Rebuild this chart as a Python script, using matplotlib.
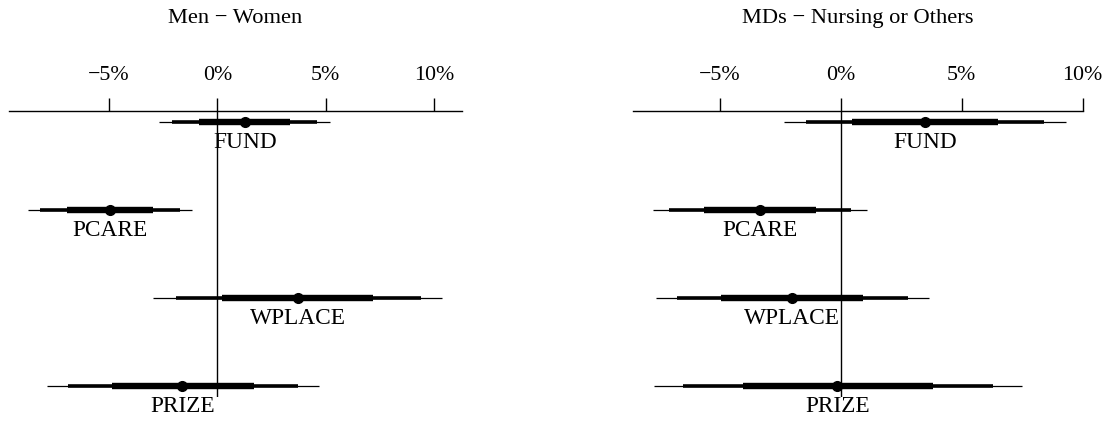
import matplotlib
matplotlib.use("Agg")
import matplotlib.pyplot as plt

plt.rcParams['font.family'] = ['Liberation Serif', 'DejaVu Serif']

categories = ["FUND", "PCARE", "WPLACE", "PRIZE"]

# Men - Women (percent)
mw_est = [1.28, -4.95, 3.71, -1.61]
mw_thin_lo = [-2.68, -8.75, -2.95, -7.87]
mw_thin_hi = [5.20, -1.15, 10.38, 4.69]
mw_mid_lo = [-2.10, -8.18, -1.92, -6.88]
mw_mid_hi = [4.62, -1.72, 9.39, 3.71]
mw_thick_lo = [-0.83, -6.95, 0.20, -4.87]
mw_thick_hi = [3.36, -2.95, 7.17, 1.69]

# MDs - Nursing or Others (percent)
md_est = [3.48, -3.33, -2.02, -0.14]
md_thin_lo = [-2.34, -7.74, -7.64, -7.71]
md_thin_hi = [9.31, 1.07, 3.65, 7.48]
md_mid_lo = [-1.43, -7.08, -6.78, -6.53]
md_mid_hi = [8.41, 0.41, 2.77, 6.31]
md_thick_lo = [0.45, -5.65, -4.96, -4.05]
md_thick_hi = [6.51, -1.02, 0.94, 3.83]

tick_vals = [-5, 0, 5, 10]
tick_labels = ["\u22125%", "0%", "5%", "10%"]

W, H = 1107, 421
fig = plt.figure(figsize=(W / 100, H / 100), dpi=100)

FS_TICK = 15.8
FS_LAB = 16.8
FS_TITLE = 16.2
ypos = [4, 3, 2, 1]


def panel(left_px, right_px, xlim, title, title_cx, est, tl, th, ml, mh, kl, kh):
    top_px, bot_px = 111, 397
    ax = fig.add_axes([left_px / W, 1 - bot_px / H,
                       (right_px - left_px) / W, (bot_px - top_px) / H])
    ax.set_xlim(*xlim)
    ax.set_ylim(0.875, 4.121)
    for s in ["left", "right", "bottom"]:
        ax.spines[s].set_visible(False)
    ax.spines["top"].set_linewidth(1.0)
    ax.xaxis.set_ticks_position("top")
    ax.set_xticks(tick_vals)
    ax.set_xticklabels(tick_labels)
    ax.tick_params(axis="x", direction="out", length=9.6, width=1.0,
                   pad=9, labelsize=FS_TICK)
    ax.set_yticks([])
    ax.axvline(0, color="black", lw=1.0, zorder=1)
    ax.hlines(ypos, tl, th, color="black", lw=0.9, zorder=2)
    ax.hlines(ypos, ml, mh, color="black", lw=2.6, zorder=3)
    ax.hlines(ypos, kl, kh, color="black", lw=4.6, zorder=4)
    ax.plot(est, ypos, "o", color="black", ms=7, zorder=5)
    for x, y, lab in zip(est, ypos, categories):
        ax.annotate(lab, (x, y), xytext=(0, -19), textcoords="offset points",
                    ha="center", va="baseline", fontsize=FS_LAB)
    fig.text(title_cx / W, 1 - 22.7 / H, title, ha="center", va="baseline",
             fontsize=FS_TITLE)
    ax.patch.set_visible(False)
    return ax


panel(9, 462, (-9.61, 11.29), "Men \u2212 Women", 235,
      mw_est, mw_thin_lo, mw_thin_hi, mw_mid_lo, mw_mid_hi, mw_thick_lo, mw_thick_hi)
panel(633.3, 1082.7, (-8.57, 10.0), "MDs \u2212 Nursing or Others", 858,
      md_est, md_thin_lo, md_thin_hi, md_mid_lo, md_mid_hi, md_thick_lo, md_thick_hi)

fig.savefig("out.png", dpi=100)
